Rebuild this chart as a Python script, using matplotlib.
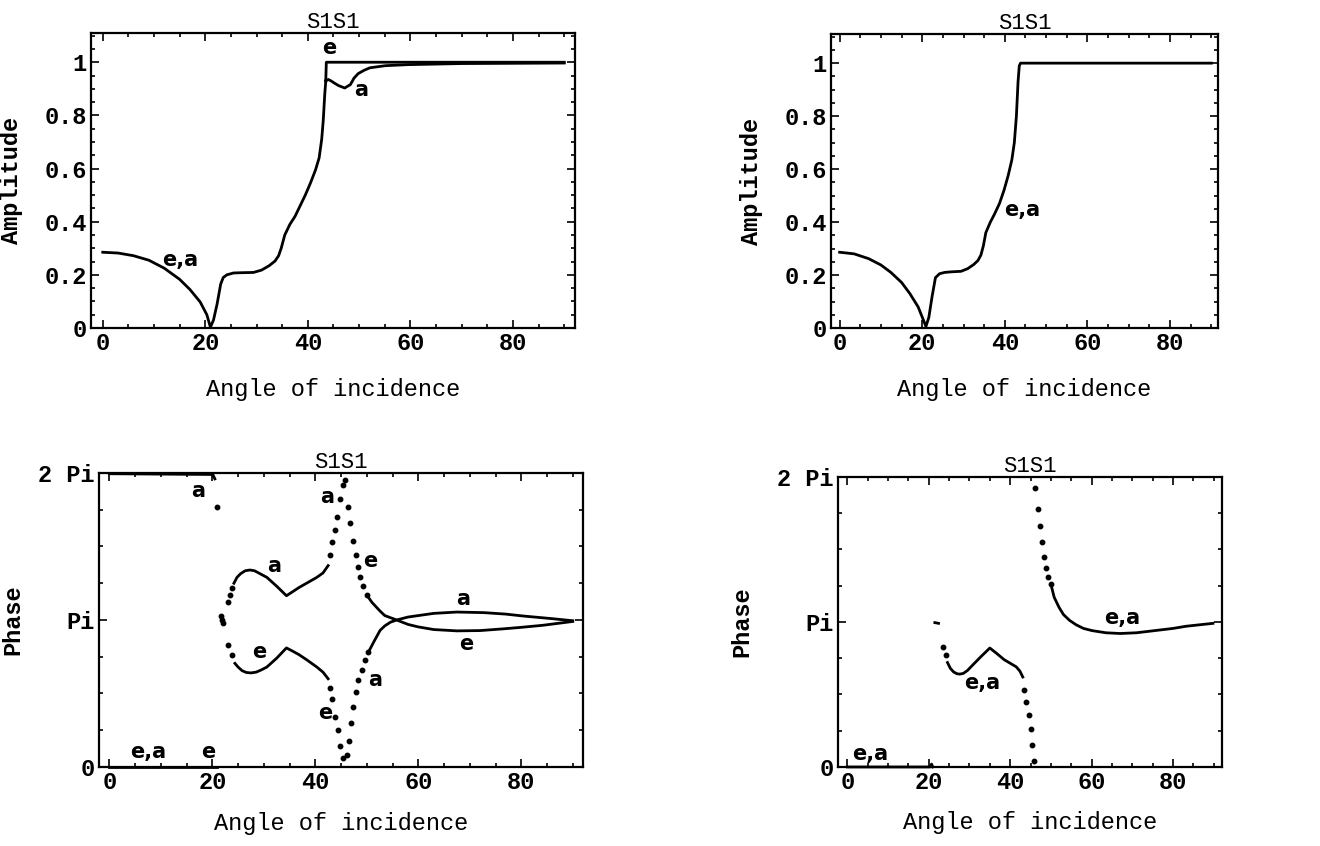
import numpy as np
import matplotlib.pyplot as plt
from matplotlib.ticker import MultipleLocator

# ---- amplitude, left panel (e and a coincide up to ~43.5 deg)
amp_x = [0, 3, 6, 9, 12, 15, 17, 19, 20.3, 21.0, 21.6, 22.3, 23.0, 23.5, 24.2, 25.5, 27,
         29.4, 31, 32.5, 33.6, 34.3, 34.8, 35.5, 36.5, 37.5, 38.5, 39.5, 40.5, 41.5,
         42.2, 42.7, 43.0, 43.3, 43.5]
amp_ea = [0.285, 0.282, 0.272, 0.255, 0.225, 0.183, 0.145, 0.098, 0.05, 0.003, 0.03, 0.09,
          0.165, 0.19, 0.2, 0.207, 0.208, 0.209, 0.218, 0.235, 0.252, 0.272, 0.3, 0.35, 0.39,
          0.42, 0.46, 0.5, 0.545, 0.595, 0.64, 0.71, 0.78, 0.88, 0.93]
amp_e_x = [43.5, 43.6, 90]
amp_e = [0.93, 1.0, 1.0]
amp_a_x = [43.5, 44.0, 44.5, 45.3, 46.0, 47.2, 48.3, 49.0, 49.8, 51.0, 52.1, 55.1, 59.6, 70, 90]
amp_a = [0.93, 0.935, 0.93, 0.92, 0.912, 0.903, 0.916, 0.94, 0.957, 0.97, 0.979, 0.987, 0.991,
         0.995, 0.997]

# ---- amplitude, right panel (e,a)
amp2_x = [0, 3.5, 7, 10, 12.4, 15, 17, 19, 20.9, 21.6, 22.4, 23.2, 24.2, 25.5, 27, 29.4, 31,
          32.5, 33.5, 34.2, 34.8, 35.4, 36.5, 37.5, 38.7, 39.8, 40.8, 41.7, 42.3, 42.8, 43.2,
          43.5, 43.8, 90]
amp2 = [0.286, 0.28, 0.262, 0.238, 0.21, 0.172, 0.13, 0.08, 0.006, 0.04, 0.12, 0.19, 0.205,
        0.21, 0.212, 0.214, 0.224, 0.24, 0.255, 0.275, 0.31, 0.36, 0.4, 0.43, 0.47, 0.52, 0.575,
        0.635, 0.7, 0.8, 0.93, 0.99, 1.0, 1.0]

# ---- phase, left panel (in units of pi)
e0_x, e0 = [0, 21.0], [0.0, 0.0]
a0_x, a0 = [0, 20.1, 20.5], [1.995, 1.99, 1.96]
kink_x, kink = [20.9, 21.6, 21.8, 22.0], [1.77, 1.03, 1.0, 0.98]
a_dot1_x, a_dot1 = [23.1, 23.5, 23.9], [1.125, 1.17, 1.22]
a_up_x = [24.2, 24.8, 25.5, 26.4, 27.3, 28.2, 29.0, 30.6, 32.5, 34.4, 35.5, 36.8, 38.3,
          40.3, 41.5, 42.5]
a_up = [1.25, 1.29, 1.315, 1.335, 1.34, 1.335, 1.32, 1.29, 1.23, 1.165, 1.19, 1.22, 1.25,
        1.29, 1.32, 1.37]
a_dot2_x = [42.8, 43.2, 43.8, 44.2, 44.8, 45.4]
a_dot2 = [1.44, 1.53, 1.61, 1.70, 1.82, 1.92]
a_dot3_x = [46.1, 46.6, 46.9, 47.4, 47.9, 48.3, 49.0, 49.7, 50.3]
a_dot3 = [0.08, 0.18, 0.30, 0.41, 0.51, 0.59, 0.66, 0.73, 0.78]
a_end_x = [50.3, 51.5, 52.6, 53.5, 54.6, 55.8, 58, 60, 63, 67.5, 72.8, 77, 80.4, 85.7, 90]
a_end = [0.78, 0.86, 0.93, 0.96, 0.985, 1.0, 1.02, 1.03, 1.045, 1.054, 1.05, 1.04, 1.027,
         1.01, 0.995]
e_dot1_x, e_dot1 = [23.1, 23.8], [0.83, 0.76]
e_lo_x = [24.4, 25.0, 25.8, 26.6, 27.5, 28.5, 29.5, 30.6, 32.5, 34.4, 35.5, 36.8, 38.3,
          40.3, 41.5, 42.5]
e_lo = [0.705, 0.68, 0.655, 0.643, 0.64, 0.645, 0.66, 0.68, 0.74, 0.81, 0.79, 0.765, 0.73,
        0.68, 0.645, 0.60]
e_dot2_x = [42.9, 43.2, 43.8, 44.5, 44.8, 45.4]
e_dot2 = [0.535, 0.46, 0.34, 0.25, 0.14, 0.06]
e_dot3_x = [45.7, 46.4, 46.7, 47.3, 47.9, 48.2, 48.7, 49.3, 50.0]
e_dot3 = [1.95, 1.77, 1.66, 1.54, 1.44, 1.36, 1.29, 1.23, 1.17]
e_end_x = [50.0, 51.0, 52.6, 53.5, 55.8, 58, 60, 63, 67.5, 72, 76.6, 80, 84.2, 90]
e_end = [1.17, 1.12, 1.06, 1.03, 1.0, 0.97, 0.953, 0.935, 0.926, 0.928, 0.94, 0.95, 0.964,
         0.99]

# ---- phase, right panel (e,a), units of pi
p0_x, p0 = [0, 20.3, 20.7, 21.0], [0.0, 0.0, 0.02, 0.0]
pdash_x, pdash = [21.5, 22.4], [0.995, 0.99]
pdot1_x, pdot1 = [23.6, 24.2], [0.83, 0.77]
pmid_x = [24.6, 25.3, 26.1, 26.9, 27.6, 28.5, 29.5, 30.7, 32.8, 35.0, 36.8, 38.5, 40.3,
          41.5, 42.4, 43.1]
pmid = [0.72, 0.68, 0.655, 0.643, 0.64, 0.645, 0.665, 0.70, 0.76, 0.82, 0.78, 0.74, 0.71,
        0.69, 0.66, 0.62]
pdot2_x = [43.5, 44.0, 44.5, 45.0, 45.4, 45.9]
pdot2 = [0.53, 0.45, 0.36, 0.26, 0.15, 0.04]
pdot3_x = [46.0, 46.8, 47.3, 47.9, 48.3, 48.9, 49.4, 50.0]
pdot3 = [1.92, 1.78, 1.66, 1.55, 1.45, 1.37, 1.31, 1.26]
pend_x = [50.0, 50.8, 52.0, 53.1, 54.6, 56.2, 58, 60.1, 63.5, 67, 71, 75.5, 80, 83.2, 89.8]
pend = [1.26, 1.17, 1.10, 1.05, 1.01, 0.98, 0.955, 0.94, 0.925, 0.92, 0.925, 0.94, 0.955,
        0.97, 0.99]

mono = 'Liberation Mono'
lab = 'DejaVu Sans'
lw = 2.0
ms = 3.2

fig = plt.figure(figsize=(13.2, 8.46), dpi=100)
ax1 = fig.add_axes([0.0689, 0.6123, 0.3667, 0.3487])
ax2 = fig.add_axes([0.6295, 0.6123, 0.2932, 0.3475])
ax3 = fig.add_axes([0.0750, 0.0934, 0.3667, 0.3475])
ax4 = fig.add_axes([0.6348, 0.0934, 0.2909, 0.3430])


def style(ax, xlim, ylab, ylab_x, xlab_y, amp=True):
    ax.set_xlim(*xlim)
    ax.xaxis.set_major_locator(MultipleLocator(20))
    ax.xaxis.set_minor_locator(MultipleLocator(5))
    if amp:
        ax.set_ylim(0, 1.11)
        ax.set_yticks([0, 0.2, 0.4, 0.6, 0.8, 1.0])
        ax.set_yticklabels(['0', '0.2', '0.4', '0.6', '0.8', '1'])
        ax.yaxis.set_minor_locator(MultipleLocator(0.05))
    else:
        ax.set_ylim(0, 2 * np.pi)
        ax.set_yticks([0, np.pi, 2 * np.pi])
        ax.set_yticklabels(['0', 'Pi', '2 Pi'])
        ax.yaxis.set_minor_locator(MultipleLocator(np.pi / 4))
    ax.tick_params(which='both', direction='in', top=True, right=True, width=1.2)
    ax.tick_params(which='major', length=6, pad=3)
    ax.tick_params(which='minor', length=3)
    for t in ax.get_xticklabels() + ax.get_yticklabels():
        t.set_fontfamily(mono)
        t.set_fontweight('bold')
        t.set_fontsize(17)
    for s in ax.spines.values():
        s.set_linewidth(1.6)
    ax.set_title('S1S1', family=mono, fontsize=16, pad=3)
    ax.set_xlabel('Angle of incidence', family=mono, fontsize=17)
    ax.set_ylabel(ylab, family=mono, weight='bold', fontsize=17)
    ax.xaxis.set_label_coords(0.5, xlab_y)
    ax.yaxis.set_label_coords(ylab_x, 0.5)


def note(ax, x, y, s):
    ax.text(x, y, s, family=lab, weight='bold', fontsize=15, ha='center', va='center')


# amplitude left
ax1.plot(amp_x, amp_ea, color='black', lw=lw)
ax1.plot(amp_e_x, amp_e, color='black', lw=lw)
ax1.plot(amp_a_x, amp_a, color='black', lw=lw)
note(ax1, 15.1, 0.255, 'e,a')
note(ax1, 44.2, 1.055, 'e')
note(ax1, 50.4, 0.895, 'a')
style(ax1, (-2.3, 92.1), 'Amplitude', -0.141, -0.17)

# amplitude right
ax2.plot(amp2_x, amp2, color='black', lw=lw)
note(ax2, 44.3, 0.447, 'e,a')
style(ax2, (-2.1, 91.6), 'Amplitude', -0.176, -0.17)

# phase left
P = np.pi
for xs, ys in [(e0_x, e0), (a0_x, a0), (a_up_x, a_up), (a_end_x, a_end),
               (e_lo_x, e_lo), (e_end_x, e_end)]:
    ax3.plot(xs, np.array(ys) * P, color='black', lw=lw, clip_on=False)
for xs, ys in [(kink_x, kink), (a_dot1_x, a_dot1), (a_dot2_x, a_dot2), (a_dot3_x, a_dot3),
               (e_dot1_x, e_dot1), (e_dot2_x, e_dot2), (e_dot3_x, e_dot3)]:
    ax3.plot(xs, np.array(ys) * P, 'o', color='black', ms=ms)
for x, y, s in [(7.5, 0.1, 'e,a'), (19.2, 0.1, 'e'), (17.2, 1.88, 'a'), (42.3, 1.84, 'a'),
                (32.1, 1.37, 'a'), (50.7, 1.40, 'e'), (29.1, 0.78, 'e'), (41.9, 0.37, 'e'),
                (51.7, 0.59, 'a'), (68.7, 1.14, 'a'), (69.4, 0.84, 'e')]:
    note(ax3, x, y * P, s)
style(ax3, (-2.0, 92.0), 'Phase', -0.155, -0.153, amp=False)

# phase right
for xs, ys in [(p0_x, p0), (pdash_x, pdash), (pmid_x, pmid), (pend_x, pend)]:
    ax4.plot(xs, np.array(ys) * P, color='black', lw=lw, clip_on=False)
for xs, ys in [(pdot1_x, pdot1), (pdot2_x, pdot2), (pdot3_x, pdot3)]:
    ax4.plot(xs, np.array(ys) * P, 'o', color='black', ms=ms)
for x, y, s in [(5.5, 0.09, 'e,a'), (33.2, 0.58, 'e,a'), (67.5, 1.03, 'e,a')]:
    note(ax4, x, y * P, s)
style(ax4, (-2.3, 92.0), 'Phase', -0.22, -0.153, amp=False)

fig.savefig('out.png', dpi=100)
